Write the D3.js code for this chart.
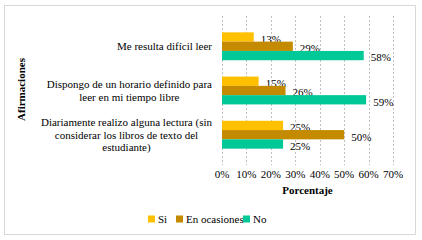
<!DOCTYPE html>
<html>
<head>
<meta charset="utf-8">
<script src="https://cdn.jsdelivr.net/npm/d3@7"></script>
<style>
  body { margin: 0; background: #fff; }
</style>
</head>
<body>
<div id="chart"></div>
<script>
var categories = [
    ["Me resulta difícil leer"],
    ["Dispongo de un horario definido para", "leer en mi tiempo libre"],
    ["Diariamente realizo alguna lectura (sin", "considerar los libros de texto del", "estudiante)"]
];
var seriesNames = ["Si", "En ocasiones", "No"];
var si = [13, 15, 25];
var enOcasiones = [29, 26, 50];
var no = [58, 59, 25];
var xTicks = [0, 10, 20, 30, 40, 50, 60, 70];
var colors = ["#FFC000", "#C48B00", "#00C896"];

var values = [si, enOcasiones, no];

var W = 422, H = 240;
var margin = {top: 16, left: 222, right: 29, bottom: 75},
    width = W - margin.left - margin.right,
    height = H - margin.top - margin.bottom;

var svg = d3.select("#chart")
    .append("svg")
        .attr("width", W)
        .attr("height", H)
        .attr("font-family", "'Liberation Serif', 'DejaVu Serif', serif");

// chart border
svg.append("rect")
    .attr("x", 4.5).attr("y", 5.5)
    .attr("width", 411).attr("height", 229)
    .attr("fill", "none")
    .attr("stroke", "#b0b0b0")
    .attr("stroke-dasharray", "1,1");

var g = svg.append("g")
    .attr("transform", "translate(" + margin.left + "," + margin.top + ")");

var x = d3.scaleLinear()
    .domain([0, 70])
    .range([0, width]);

var y = d3.scaleBand()
    .domain(d3.range(categories.length))
    .range([0, height])
    .padding(0.37);

var ySub = d3.scaleBand()
    .domain(d3.range(seriesNames.length))
    .range([0, y.bandwidth()]);

// gridlines
g.selectAll(".grid")
    .data(xTicks)
  .enter().append("line")
    .attr("class", "grid")
    .attr("x1", function(d) { return Math.round(x(d)) + 0.5; })
    .attr("x2", function(d) { return Math.round(x(d)) + 0.5; })
    .attr("y1", 0)
    .attr("y2", height)
    .attr("stroke", "#bfbfbf")
    .attr("stroke-dasharray", "2,2");

// bars
seriesNames.forEach(function(name, s) {
    g.selectAll(".bar" + s)
        .data(values[s])
      .enter().append("rect")
        .attr("x", 0)
        .attr("y", function(d, i) { return y(i) + ySub(s); })
        .attr("width", function(d) { return x(d); })
        .attr("height", ySub.bandwidth())
        .attr("fill", colors[s]);

    g.selectAll(".lbl" + s)
        .data(values[s])
      .enter().append("text")
        .attr("x", function(d) { return x(d) + 7; })
        .attr("y", function(d, i) { return y(i) + ySub(s) + ySub.bandwidth() / 2 + 2; })
        .attr("dy", "0.35em")
        .attr("font-size", 11)
        .text(function(d) { return d + "%"; });
});

// x axis tick labels
g.selectAll(".tick")
    .data(xTicks)
  .enter().append("text")
    .attr("x", function(d) { return x(d); })
    .attr("y", height + 13)
    .attr("text-anchor", "middle")
    .attr("font-size", 11)
    .text(function(d) { return d + "%"; });

g.append("text")
    .attr("x", width / 2)
    .attr("y", height + 29)
    .attr("text-anchor", "middle")
    .attr("font-size", 11)
    .attr("font-weight", "bold")
    .text("Porcentaje");

// category labels, lines centred within a block aligned right
var labelRight = -10;
categories.forEach(function(lines, i) {
    var grp = g.append("g");
    var texts = grp.selectAll("text")
        .data(lines)
      .enter().append("text")
        .attr("font-size", 11)
        .attr("text-anchor", "middle")
        .text(function(d) { return d; });
    var maxW = 0;
    texts.each(function() { maxW = Math.max(maxW, this.getComputedTextLength()); });
    var cx = labelRight - maxW / 2;
    var lh = 12.5;
    var cy = y(i) + y.bandwidth() / 2;
    texts.attr("x", cx)
        .attr("y", function(d, j) { return cy + (j - (lines.length - 1) / 2) * lh; })
        .attr("dy", "0.35em");
});

svg.append("text")
    .attr("transform", "translate(25," + (margin.top + height / 2 - 1) + ") rotate(-90)")
    .attr("text-anchor", "middle")
    .attr("font-size", 11)
    .attr("font-weight", "bold")
    .text("Afirmaciones");

// legend
var legendX = [148, 176, 243];
var legend = svg.selectAll(".legend")
    .data(seriesNames)
  .enter().append("g")
    .attr("transform", function(d, i) { return "translate(" + legendX[i] + ",219)"; });
legend.append("rect")
    .attr("x", 0).attr("y", -3.5)
    .attr("width", 7).attr("height", 7)
    .attr("fill", function(d, i) { return colors[i]; });
legend.append("text")
    .attr("x", 10)
    .attr("dy", "0.35em")
    .attr("font-size", 11)
    .text(function(d) { return d; });
</script>
</body>
</html>
